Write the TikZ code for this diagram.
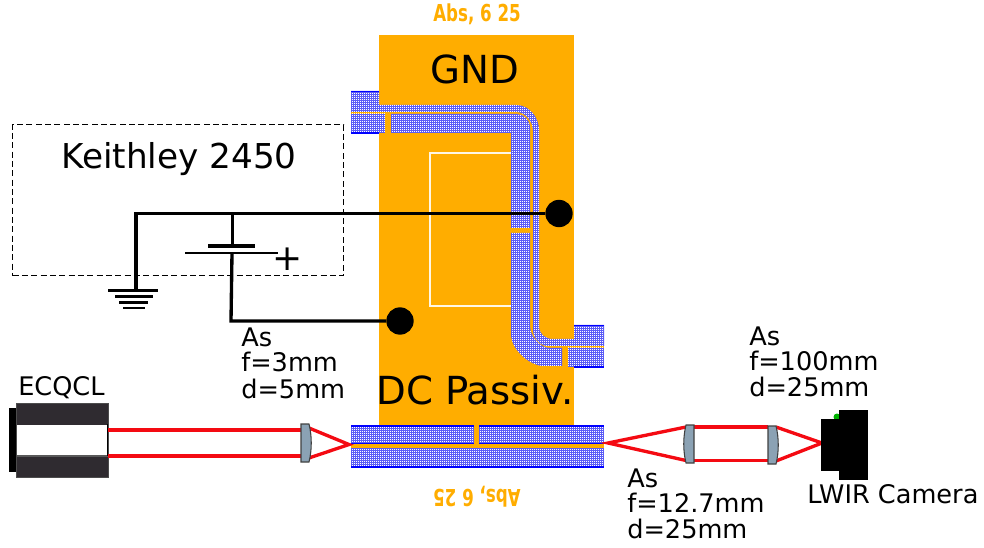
\documentclass[tikz,border=0pt]{standalone}
\usepackage{fontspec}
\setmainfont{DejaVu Sans}
\usetikzlibrary{patterns}
\definecolor{gold}{HTML}{FFAD00}
\definecolor{wgblue}{HTML}{5C5CF7}
\definecolor{lensfill}{HTML}{8BA2B4}
\definecolor{bodydark}{HTML}{2F2B30}
\definecolor{beam}{HTML}{F40A12}
\pgfdeclarepatternformonly{wgdots}{\pgfqpoint{-0.1pt}{-0.1pt}}{\pgfqpoint{1.6pt}{1.6pt}}{\pgfqpoint{1.5pt}{1.5pt}}{%
  \pgfpathrectangle{\pgfqpoint{0pt}{0pt}}{\pgfqpoint{0.85pt}{0.85pt}}\pgfusepath{fill}}
\tikzset{
  wg/.style={preaction={fill=wgblue},pattern=wgdots,pattern color=white,draw=none},
  wgedge/.style={draw=blue,line width=1pt},
  wire/.style={draw=black,line width=2.5pt},
  thinwire/.style={draw=black,line width=1.4pt},
  ray/.style={draw=beam,line width=2.5pt},
  lensbody/.style={fill=lensfill,draw=black!75,line width=0.8pt},
  dotnode/.style={circle,fill=black,minimum size=20.5pt,inner sep=0pt},
  lbl/.style={font=\fontsize{19.2pt}{24pt}\selectfont,anchor=base west,inner sep=0pt,align=left},
  big/.style={font=\fontsize{29pt}{34pt}\selectfont,inner sep=0pt,anchor=base},
  padtext/.style={font=\fontsize{12.5pt}{14pt}\selectfont\bfseries,text=gold,inner sep=0pt,anchor=base},
  gndline/.style={draw=black,line width=2.2pt},
}
\begin{document}
\begin{tikzpicture}[x=0.75pt,y=-0.75pt]
\useasboundingbox (0,0) rectangle (984,548);
% chip
\fill[gold] (379,35) rectangle (574,426);
\fill[gold] (351,111) rectangle (379,115);
\fill[gold] (574,345) rectangle (604,349);
\fill[gold] (351,444) rectangle (604,448);
% white contact outline
\draw[white!90!gold,line width=0.9pt] (511,153) -- (430,153) -- (430,306) -- (511,306);
% upper waveguide
\path[wg] (351,91) -- (379,91) -- (379,105) -- (516,105) .. controls (530,105) and (539,118) .. (539,130)
  -- (539,326) .. controls (539,334) and (545,339) .. (553,339) -- (574,339) -- (574,325) -- (604,325) -- (604,346)
  -- (548,346) .. controls (540,346) and (533,338) .. (533,330) -- (533,131) .. controls (533,122) and (526,112) .. (516,112)
  -- (351,112) -- cycle;
\path[wg] (351,114) rectangle (385,133);
\path[wg] (391,114) -- (517,114) .. controls (524,114) and (530,120) .. (530,128) -- (530,228) -- (511,228) -- (511,133) -- (391,133) -- cycle;
\path[wg] (511,233) -- (530,233) -- (530,326) .. controls (530,336) and (540,348) .. (550,348) -- (562,348) -- (562,366) -- (544,366)
  .. controls (530,366) and (511,350) .. (511,334) -- cycle;
\path[wg] (568,348) rectangle (604,367);
% lower waveguide
\path[wg] (351,426) rectangle (474,444);
\path[wg] (479,426) rectangle (604,444);
\path[wg] (351,448) rectangle (604,467);
\fill[gold] (474,424) rectangle (479,445);
\draw[wgedge] (351,91.5) -- (379,91.5);
\draw[wgedge] (351,133) -- (379,133);
\draw[wgedge] (574,325.5) -- (604,325.5);
\draw[wgedge] (574,367) -- (604,367);
\draw[wgedge] (351,426) -- (474,426) (479,426) -- (604,426);
\draw[wgedge] (351,443.8) -- (474,443.8) (479,443.8) -- (604,443.8);
\draw[wgedge] (351,467) -- (604,467);
% texts on chip
\node[padtext] (abstop) at (477,21.5) {\scalebox{1}[1.4]{Abs, 6 25}};
\node[padtext,rotate=180] (absbot) at (477,489) {\scalebox{1}[1.4]{Abs, 6 25}};
\node[big] (gnd) at (475,84) {GND};
\node[big] (dcp) at (475,404) {DC Passiv.};
% Keithley
\node[draw=black,line width=0.8pt,dash pattern=on 4.5pt off 2.5pt,minimum width=248.25pt,minimum height=113.25pt,inner sep=0pt,anchor=north west] (keithley) at (12,124) {};
\node[font=\fontsize{25.7pt}{30pt}\selectfont,inner sep=0pt,anchor=base] (keithleytext) at (179,169) {Keithley 2450};
% contact dots
\node[dotnode] (dota) at (559,213.5) {};
\node[dotnode] (dotb) at (400,321) {};
% circuit
\coordinate (gtop) at (136,213.5);
\coordinate (gnode) at (136,290);
\coordinate (btop) at (232.5,213.5);
\coordinate (bplus) at (232.5,246);
\coordinate (bminus) at (232,253);
\coordinate (bcorner) at (231,321);
\draw[wire] (gnode) -- (gtop) -- (dota);
\draw[wire] (btop) -- (bplus);
\draw[wire] (bminus) -- (bcorner) -- (dotb);
\draw[draw=black,line width=3.4pt] (208,246) -- (255,246);
\draw[thinwire] (185,253) -- (278,253);
\node[font=\fontsize{27pt}{30pt}\selectfont,inner sep=0pt] (plus) at (288,259.5) {+};
\draw[gndline] (108,290.5) -- (158,290.5);
\draw[gndline] (115,296.5) -- (153,296.5);
\draw[gndline] (119,302.5) -- (148,302.5);
\draw[gndline] (123,308) -- (145,308);
% labels
\node[lbl] (l1) at (241,347) {As};
\node[lbl] (l1b) at (241,372) {f=3mm};
\node[lbl] (l1c) at (241,398) {d=5mm};
\node[lbl] (l2) at (749,346) {As};
\node[lbl] (l2b) at (749,371) {f=100mm};
\node[lbl] (l2c) at (749,396.5) {d=25mm};
\node[lbl] (l3) at (627,487.5) {As};
\node[lbl] (l3b) at (627,512.5) {f=12.7mm};
\node[lbl] (l3c) at (627,538) {d=25mm};
\node[lbl] (ecqcl) at (18,396) {ECQCL};
\node[lbl] (lwir) at (807,503) {LWIR Camera};
% laser
\fill[black] (9,408) rectangle (17,472);
\node[draw=black!70,fill=bodydark,line width=0.6pt,minimum width=69pt,minimum height=55.5pt,inner sep=0pt,anchor=north west] (laser) at (16,403) {};
\fill[white] (16.5,424.5) rectangle (107.5,455);
\draw[black!65,line width=1pt] (16.5,456) -- (107.5,456);
\draw[black,line width=0.8pt] (107.6,424) -- (107.6,456);
% lens 1
\coordinate (la) at (108,430);
\coordinate (lb) at (108,456);
\coordinate (lc) at (301,430);
\coordinate (ld) at (301,456);
\coordinate (focus1) at (349,444.5);
\coordinate (lae) at (309,428);
\coordinate (lbe) at (309,458);
\draw[ray] (la) -- (lc);
\draw[ray] (lb) -- (ld);
\draw[ray,line join=miter] (lae) -- (focus1) -- (lbe);
\path[lensbody] (301,424) -- (309,424) .. controls (312,436) and (312,450) .. (309,462) -- (301,462) -- cycle;
% right optics
\coordinate (focus2) at (608,443);
\coordinate (ra) at (686,427);
\coordinate (rb) at (686,460.5);
\coordinate (rc) at (768,427);
\coordinate (rd) at (768,460.5);
\coordinate (re) at (776,427);
\coordinate (rf) at (776,461);
\coordinate (camfocus) at (822,443);
\draw[ray,line join=miter] (ra) -- (focus2) -- (rb);
\draw[ray] (ra) -- (rc);
\draw[ray] (rb) -- (rd);
\draw[ray] (re) -- (camfocus) -- (rf);
\path[lensbody] (694,425) -- (686,425) .. controls (683,437) and (683,451) .. (686,463) -- (694,463) -- cycle;
\path[lensbody] (768,426) -- (776,426) .. controls (779,438) and (779,452) .. (776,464) -- (768,464) -- cycle;
% camera
\fill[green!70!black] (837,417) circle[radius=3.5];
\fill[black] (821,419) rectangle (840,471);
\fill[black] (839,410) rectangle (868,480);
\end{tikzpicture}
\end{document}
